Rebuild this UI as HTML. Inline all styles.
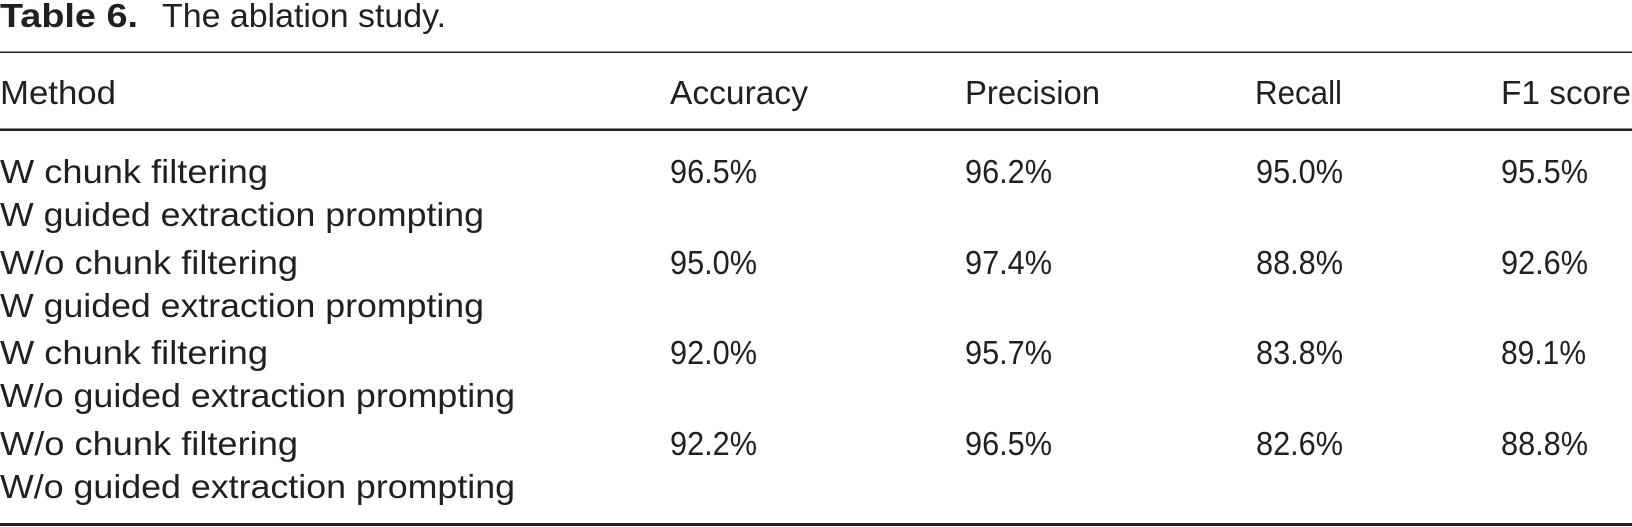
<!DOCTYPE html>
<html>
<head>
<meta charset="utf-8">
<style>
html,body{margin:0;padding:0;background:#fff;}
svg{display:block;}
text{font-family:"Liberation Sans",Arial,sans-serif;font-size:33px;fill:#231f20;}
.b{font-weight:bold;}
</style>
</head>
<body>
<svg width="1632" height="527" viewBox="0 0 1632 527" xmlns="http://www.w3.org/2000/svg">
<rect x="0" y="0" width="1632" height="527" fill="#fff"/>
<!-- title -->
<text class="b" x="0" y="27" textLength="138" lengthAdjust="spacingAndGlyphs">Table 6.</text>
<text x="162" y="27" textLength="284" lengthAdjust="spacingAndGlyphs">The ablation study.</text>
<!-- rules -->
<rect x="0" y="51.5" width="1632" height="1.5" fill="#231f20"/>
<rect x="0" y="128.5" width="1632" height="2.5" fill="#231f20"/>
<rect x="0" y="523" width="1632" height="3" fill="#231f20"/>
<!-- header -->
<text x="0" y="104" textLength="116" lengthAdjust="spacingAndGlyphs">Method</text>
<text x="670" y="104" textLength="138" lengthAdjust="spacingAndGlyphs">Accuracy</text>
<text x="965" y="104" textLength="135" lengthAdjust="spacingAndGlyphs">Precision</text>
<text x="1255" y="104" textLength="87" lengthAdjust="spacingAndGlyphs">Recall</text>
<text x="1501" y="104" textLength="130" lengthAdjust="spacingAndGlyphs">F1 score</text>
<!-- row 1 -->
<text x="0" y="183" textLength="268" lengthAdjust="spacingAndGlyphs">W chunk filtering</text>
<text x="0" y="226" textLength="484" lengthAdjust="spacingAndGlyphs">W guided extraction prompting</text>
<text x="670" y="183" textLength="87" lengthAdjust="spacingAndGlyphs">96.5%</text>
<text x="965" y="183" textLength="87" lengthAdjust="spacingAndGlyphs">96.2%</text>
<text x="1256" y="183" textLength="87" lengthAdjust="spacingAndGlyphs">95.0%</text>
<text x="1501" y="183" textLength="87" lengthAdjust="spacingAndGlyphs">95.5%</text>
<!-- row 2 -->
<text x="0" y="274" textLength="298" lengthAdjust="spacingAndGlyphs">W/o chunk filtering</text>
<text x="0" y="317" textLength="484" lengthAdjust="spacingAndGlyphs">W guided extraction prompting</text>
<text x="670" y="274" textLength="87" lengthAdjust="spacingAndGlyphs">95.0%</text>
<text x="965" y="274" textLength="87" lengthAdjust="spacingAndGlyphs">97.4%</text>
<text x="1256" y="274" textLength="87" lengthAdjust="spacingAndGlyphs">88.8%</text>
<text x="1501" y="274" textLength="87" lengthAdjust="spacingAndGlyphs">92.6%</text>
<!-- row 3 -->
<text x="0" y="364" textLength="268" lengthAdjust="spacingAndGlyphs">W chunk filtering</text>
<text x="0" y="407" textLength="515" lengthAdjust="spacingAndGlyphs">W/o guided extraction prompting</text>
<text x="670" y="364" textLength="87" lengthAdjust="spacingAndGlyphs">92.0%</text>
<text x="965" y="364" textLength="87" lengthAdjust="spacingAndGlyphs">95.7%</text>
<text x="1256" y="364" textLength="87" lengthAdjust="spacingAndGlyphs">83.8%</text>
<text x="1501" y="364" textLength="85" lengthAdjust="spacingAndGlyphs">89.1%</text>
<!-- row 4 -->
<text x="0" y="455" textLength="298" lengthAdjust="spacingAndGlyphs">W/o chunk filtering</text>
<text x="0" y="498" textLength="515" lengthAdjust="spacingAndGlyphs">W/o guided extraction prompting</text>
<text x="670" y="455" textLength="87" lengthAdjust="spacingAndGlyphs">92.2%</text>
<text x="965" y="455" textLength="87" lengthAdjust="spacingAndGlyphs">96.5%</text>
<text x="1256" y="455" textLength="87" lengthAdjust="spacingAndGlyphs">82.6%</text>
<text x="1501" y="455" textLength="87" lengthAdjust="spacingAndGlyphs">88.8%</text>
</svg>
</body>
</html>
